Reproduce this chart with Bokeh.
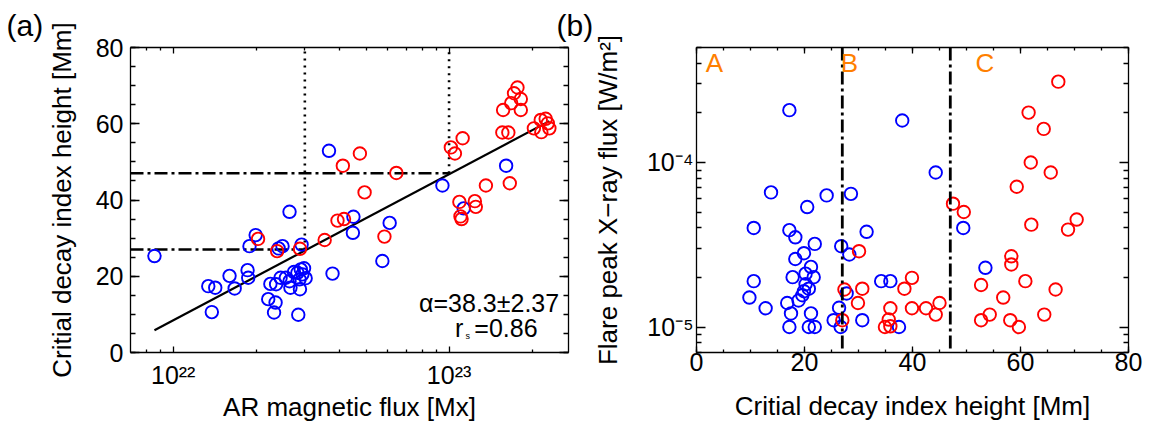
import numpy as np
from bokeh.plotting import figure
from bokeh.layouts import row
from bokeh.models import (FixedTicker, LinearAxis, LogAxis, Label, Span,
                          CustomJSTickFormatter)
from bokeh.embed import file_html
from bokeh.resources import INLINE

FONT = "Liberation Sans"
BLUE = "#0000FF"
RED = "#FF0000"
ORANGE = "#FF7F00"

# ---- panel (a): AR magnetic flux [1e22 Mx] vs critical decay index height [Mm]
a_blue_flux_e22 = [0.855, 2.64, 1.99, 1.89, 2.49, 2.92, 2.41, 4.50, 4.48, 3.78,
                   1.86, 1.87, 1.60, 1.34, 1.42, 1.67, 1.38, 2.21, 2.35, 2.32,
                   2.25, 2.36, 2.45, 2.56, 2.64, 2.66, 2.84, 2.88, 2.90, 2.98,
                   2.82, 2.94, 3.02, 2.87, 2.74, 3.67, 9.46, 16.1, 11.3, 6.09, 5.73]
a_blue_height = [25.3, 36.9, 30.8, 27.9, 27.9, 28.3, 27.3, 35.6, 31.4, 20.7,
                 21.6, 19.6, 20.1, 17.4, 17.0, 16.8, 10.6, 14.0, 13.1, 10.5,
                 18.0, 17.9, 19.6, 19.6, 18.7, 17.0, 9.9, 16.6, 21.8, 22.1,
                 20.9, 20.5, 19.5, 19.2, 21.1, 52.9, 43.8, 49.0, 37.8, 34.0, 24.0]
a_red_flux_e22 = [2.03, 2.38, 2.88, 3.54, 3.94, 4.16, 4.12, 4.75, 4.94, 6.44,
                  5.83, 10.15, 10.5, 11.2, 10.9, 12.4, 12.5, 11.0, 11.1, 13.6,
                  16.6, 17.7, 17.2, 18.2, 16.8, 15.7, 18.2, 15.6, 16.4, 21.5,
                  22.4, 22.8, 20.3, 21.6, 23.1]
a_red_height = [29.8, 26.6, 27.2, 29.5, 34.6, 35.0, 49.0, 52.2, 42.0, 47.1,
                30.4, 53.8, 52.2, 56.2, 39.5, 39.7, 38.2, 35.7, 35.0, 43.8,
                44.4, 69.5, 68.0, 66.5, 65.4, 63.6, 63.6, 57.7, 57.7, 61.0,
                61.3, 60.1, 58.8, 57.8, 58.8]

# fit: height = alpha * (log10(flux) - log_phi0)
alpha, alpha_err = 38.3, 2.37
log_phi0 = 21.779
rs = 0.86

# thresholds separating regimes A / B / C
thr_height = [27, 47]
thr_flux = [3e22, 1e23]

# ---- panel (b): critical decay index height [Mm] vs flare peak flux [1e-5 W/m^2]
b_blue_height = [17.2, 38.1, 13.8, 20.5, 24.1, 28.6, 44.3, 49.4, 53.5, 37.5,
                 10.6, 17.2, 18.3, 31.5, 21.9, 26.8, 28.3, 19.9, 18.3, 21.2,
                 20.2, 21.7, 17.8, 10.6, 20.2, 20.8, 19.9, 19.6, 18.9, 9.8,
                 12.8, 16.8, 17.5, 21.2, 17.2, 20.8, 21.9, 26.4, 25.4, 26.7,
                 27.8, 30.7, 34.2, 35.9]
b_blue_xray_e5 = [20.8, 18.0, 6.58, 5.36, 6.31, 6.45, 8.69, 4.0, 2.29, 1.0,
                  4.0, 3.88, 3.51, 3.79, 3.2, 3.1, 2.76, 2.81, 2.59, 2.32,
                  2.11, 2.01, 2.01, 1.90, 1.82, 1.71, 1.65, 1.56, 1.45, 1.51,
                  1.30, 1.40, 1.21, 1.21, 1.0, 1.0, 1.0, 1.31, 1.10, 1.0,
                  1.60, 1.10, 1.90, 1.90]
b_red_height = [67.0, 61.5, 64.3, 61.9, 65.6, 59.3, 47.5, 49.5, 62.0, 68.8,
                70.4, 58.3, 58.3, 60.9, 52.7, 66.5, 56.8, 39.9, 38.5, 39.9,
                42.5, 45.0, 44.3, 54.3, 52.7, 58.1, 59.7, 64.4, 30.1, 27.0,
                27.4, 30.7, 29.9, 35.9, 35.6, 34.9, 35.9]
b_red_xray_e5 = [31.0, 20.1, 16.0, 10.0, 8.69, 7.12, 5.62, 5.0, 4.19, 3.91,
                 4.5, 2.69, 2.40, 1.90, 1.80, 1.69, 1.51, 1.99, 1.71, 1.30,
                 1.30, 1.40, 1.19, 1.19, 1.10, 1.10, 1.00, 1.19, 2.89, 1.10,
                 1.69, 1.71, 1.40, 1.30, 1.11, 1.0, 1.01]

a_blue_flux = np.array(a_blue_flux_e22) * 1e22
a_red_flux = np.array(a_red_flux_e22) * 1e22
b_blue_xray = np.array(b_blue_xray_e5) * 1e-5
b_red_xray = np.array(b_red_xray_e5) * 1e-5

# "10" followed by a superscript exponent
POW10 = CustomJSTickFormatter(code="""
    const sup = {"0": "\u2070", "1": "\u00b9", "2": "\u00b2", "3": "\u00b3",
                 "4": "\u2074", "5": "\u2075", "6": "\u2076", "7": "\u2077",
                 "8": "\u2078", "9": "\u2079", "-": "\u207b"};
    const e = Math.round(Math.log10(tick));
    return "10" + String(e).split("").map(c => sup[c]).join("");
""")
BLANK = CustomJSTickFormatter(code="return '';")


def style_axis(ax, major_in, minor_in, labels=True):
    ax.major_tick_in = major_in
    ax.major_tick_out = 0
    ax.minor_tick_in = minor_in
    ax.minor_tick_out = 0
    ax.axis_line_color = "black"
    ax.axis_line_width = 1.3
    ax.major_tick_line_color = "black"
    ax.minor_tick_line_color = "black"
    ax.major_tick_line_width = 1.3
    ax.minor_tick_line_width = 1.3
    ax.major_label_text_font = FONT
    ax.axis_label_text_font = FONT
    ax.axis_label_text_font_style = "normal"
    ax.axis_label_text_color = "black"
    ax.major_label_text_color = "black"
    ax.major_label_text_font_size = "25px"
    ax.axis_label_text_font_size = "26px"
    if not labels:
        ax.formatter = BLANK
        ax.major_label_standoff = 0


def panel_letter(p, text, offset):
    # panel letter drawn as a left-aligned title shifted into the left margin
    p.title.text = text
    p.title.align = "left"
    p.title.offset = offset
    p.title.standoff = 12
    p.title.vertical_align = "bottom"
    p.title.text_font = FONT
    p.title.text_font_size = "30px"
    p.title.text_font_style = "normal"
    p.title.text_color = "black"


# ----------------------------------------------------------------- panel (a)
flux_ticker = FixedTicker(
    ticks=[1e22, 1e23],
    minor_ticks=[8e21, 9e21] + [k * 1e22 for k in range(2, 10)] + [2e23])
height_ticker = FixedTicker(ticks=[0, 20, 40, 60, 80],
                            minor_ticks=list(range(0, 81, 5)))

p1 = figure(width=580, height=427, x_axis_type="log",
            x_range=(7.0e21, 2.71e23), y_range=(0, 80),
            output_backend="svg", toolbar_location=None,
            min_border_left=130, min_border_right=12,
            min_border_top=46, min_border_bottom=75)
p1.grid.visible = False
p1.outline_line_color = None
p1.background_fill_color = "white"
p1.border_fill_color = None
panel_letter(p1, "(a)", -124)

p1.xaxis.ticker = flux_ticker
p1.xaxis.formatter = POW10
p1.yaxis.ticker = height_ticker
style_axis(p1.xaxis[0], 6, 3)
style_axis(p1.yaxis[0], 9, 5)
p1.xaxis.axis_label = "AR magnetic flux [Mx]"
p1.yaxis.axis_label = "Critial decay index height [Mm]"
p1.xaxis.major_label_standoff = 8
p1.xaxis.axis_label_standoff = 0
p1.yaxis.major_label_standoff = 7
p1.yaxis.axis_label_standoff = 16

top1 = LogAxis(ticker=flux_ticker)
style_axis(top1, 6, 3, labels=False)
p1.add_layout(top1, "above")
right1 = LinearAxis(ticker=height_ticker)
style_axis(right1, 9, 5, labels=False)
p1.add_layout(right1, "right")

# threshold guides
x_left = p1.x_range.start
y_top = p1.y_range.end
p1.segment(x0=thr_flux, y0=thr_height, x1=thr_flux, y1=[y_top] * 2,
           line_color="black", line_width=2.6, line_dash="2 5")
p1.segment(x0=[x_left] * 2, y0=thr_height, x1=thr_flux, y1=thr_height,
           line_color="black", line_width=2.5, line_dash="13 4 3 4")

# power-law fit
all_flux = np.concatenate([a_blue_flux, a_red_flux])
fit_x = np.array([all_flux.min(), all_flux.max()])
fit_y = alpha * (np.log10(fit_x) - log_phi0)
p1.line(fit_x, fit_y, line_color="black", line_width=2.2)

p1.scatter(a_blue_flux, a_blue_height, marker="circle", size=12.5,
           fill_color=None, line_color=BLUE, line_width=1.9)
p1.scatter(a_red_flux, a_red_height, marker="circle", size=12.5,
           fill_color=None, line_color=RED, line_width=1.9)

p1.add_layout(Label(x=10 ** 23.399, y=13.0, text=f"\u03b1={alpha:.1f}\u00b1{alpha_err:.2f}",
                    text_align="right", text_baseline="middle",
                    text_font=FONT, text_font_size="25px", text_color="black"))
p1.add_layout(Label(x=10 ** 23.321, y=6.5, text=f"={rs:.2f}",
                    text_align="right", text_baseline="middle",
                    text_font=FONT, text_font_size="25px", text_color="black"))
p1.add_layout(Label(x=10 ** 23.052, y=6.5, text="r",
                    text_align="right", text_baseline="middle",
                    text_font=FONT, text_font_size="25px", text_color="black"))
p1.add_layout(Label(x=10 ** 23.060, y=4.4, text="s",
                    text_align="left", text_baseline="middle",
                    text_font=FONT, text_font_size="9px", text_color="black"))

# ----------------------------------------------------------------- panel (b)
h_ticker = FixedTicker(ticks=[0, 20, 40, 60, 80],
                       minor_ticks=list(range(0, 81, 5)))
xray_ticker = FixedTicker(
    ticks=[1e-5, 1e-4],
    minor_ticks=[7e-6, 8e-6, 9e-6] + [k * 1e-5 for k in range(2, 10)]
                + [k * 1e-4 for k in range(2, 6)])

# the second panel's canvas overlaps the first one's empty right margin,
# so its borders are left transparent
p2 = figure(width=602, height=427, y_axis_type="log",
            x_range=(0, 80), y_range=(7e-6, 5e-4),
            output_backend="svg", toolbar_location=None,
            min_border_left=140, min_border_right=30,
            min_border_top=46, min_border_bottom=75)
p2.margin = (0, 0, 0, -24)
p2.grid.visible = False
p2.outline_line_color = None
p2.background_fill_color = "white"
p2.border_fill_color = None
panel_letter(p2, "(b)", -140)

p2.xaxis.ticker = h_ticker
p2.yaxis.ticker = xray_ticker
p2.yaxis.formatter = POW10
style_axis(p2.xaxis[0], 6, 3)
style_axis(p2.yaxis[0], 9, 5)
p2.xaxis.axis_label = "Critial decay index height [Mm]"
p2.yaxis.axis_label = "Flare peak X\u2212ray flux [W/m\u00b2]"
p2.xaxis.major_label_standoff = 0
p2.xaxis.axis_label_standoff = 17
p2.yaxis.major_label_standoff = 3
p2.yaxis.axis_label_standoff = 21

top2 = LinearAxis(ticker=h_ticker)
style_axis(top2, 6, 3, labels=False)
p2.add_layout(top2, "above")
right2 = LogAxis(ticker=xray_ticker)
style_axis(right2, 9, 5, labels=False)
p2.add_layout(right2, "right")

for h in thr_height:
    p2.add_layout(Span(location=h, dimension="height", line_color="black",
                       line_width=2.8, line_dash="13 4 3 4"))

p2.scatter(b_blue_height, b_blue_xray, marker="circle", size=12.5,
           fill_color=None, line_color=BLUE, line_width=1.9)
p2.scatter(b_red_height, b_red_xray, marker="circle", size=12.5,
           fill_color=None, line_color=RED, line_width=1.9)

for txt, hx in (("A", 3.3), ("B", 28.3), ("C", 53.4)):
    p2.add_layout(Label(x=hx, y=4.05e-4, text=txt, text_align="center",
                        text_baseline="middle", text_font=FONT,
                        text_font_size="26px", text_color=ORANGE))

layout = row(p1, p2)
open("out.html", "w").write(file_html(layout, INLINE))
